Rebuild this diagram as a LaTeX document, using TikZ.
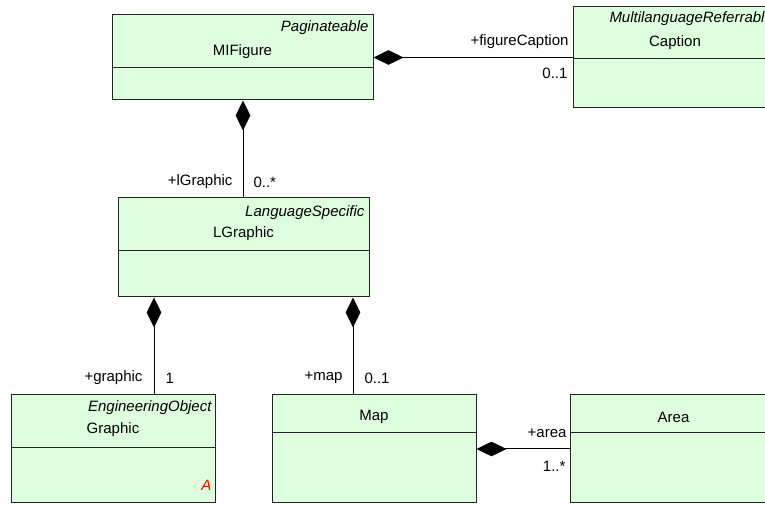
\documentclass[tikz,border=0pt]{standalone}
\usepackage{fontspec}
\setmainfont{Liberation Sans}
\usetikzlibrary{fit, arrows.meta}
\definecolor{classfill}{RGB}{221,255,221}
\definecolor{classline}{RGB}{35,35,35}

\begin{document}
\begin{tikzpicture}[x=0.75pt, y=-0.75pt, line width=0.75pt,
  font=\fontsize{11.25}{13}\selectfont,
  classbox/.style={draw=classline, fill=classfill, inner sep=0pt},
  stereo/.style={font=\fontsize{11.25}{13}\selectfont\itshape, anchor=east, inner sep=0pt},
  role/.style={inner sep=0pt},
  comp/.style={-{Diamond[length=22.5pt, width=11pt]}}]
  \useasboundingbox (0,0) rectangle (765,505);
  \clip (0,0) rectangle (765,505);
  % classes
  \node[classbox, fit={(112,15) (373,100)}] (mifigure) {};
  \node[classbox, fit={(573,7) (777,108)}] (caption) {};
  \node[classbox, fit={(118,198) (369,297)}] (lgraphic) {};
  \node[classbox, fit={(11,395) (215,503)}] (graphic) {};
  \node[classbox, fit={(272,395) (476,503)}] (map) {};
  \node[classbox, fit={(570,395) (777,503)}] (area) {};
  % compartment lines
  \draw[classline] (mifigure.west |- 0,68) -- (mifigure.east |- 0,68);
  \draw[classline] (caption.west |- 0,59) -- (caption.east |- 0,59);
  \draw[classline] (lgraphic.west |- 0,251) -- (lgraphic.east |- 0,251);
  \draw[classline] (graphic.west |- 0,448) -- (graphic.east |- 0,448);
  \draw[classline] (map.west |- 0,433) -- (map.east |- 0,433);
  \draw[classline] (area.west |- 0,433) -- (area.east |- 0,433);
  % stereotypes and names
  \node[stereo] (mifigurest) at (369,28) {Paginateable};
  \node (mifigurename) at (mifigure.center |- 0,52) {MIFigure};
  \node[stereo, anchor=west] (captionst) at (609,19) {MultilanguageReferrable};
  \node (captionname) at (caption.center |- 0,43) {Caption};
  \node[stereo] (lgraphicst) at (365,213) {LanguageSpecific};
  \node (lgraphicname) at (lgraphic.center |- 0,234) {LGraphic};
  \node[stereo] (graphicst) at (212,408) {EngineeringObject};
  \node (graphicname) at (graphic.center |- 0,430) {Graphic};
  \node[stereo, text=red] (graphicabs) at (212,485) {A};
  \node (mapname) at (map.center |- 0,417) {Map};
  \node (areaname) at (area.center |- 0,417) {Area};
  % compositions
  \draw[comp] (caption.west) -- (mifigure.east);
  \draw[comp] (lgraphic.north -| 243,0) -- (mifigure.south -| 243,0);
  \draw[comp] (graphic.north -| 154,0) -- (lgraphic.south -| 154,0);
  \draw[comp] (map.north -| 353,0) -- (lgraphic.south -| 353,0);
  \draw[comp] (area.west) -- (map.east);
  % roles and multiplicities
  \node[role, anchor=east] (captionrole) at (569,42) {+figureCaption};
  \node[role, anchor=east] (captionmult) at (568,73) {0..1};
  \node[role, anchor=east] (lgraphicrole) at (233,182) {+lGraphic};
  \node[role, anchor=west] (lgraphicmult) at (253,182) {0..*};
  \node[role, anchor=east] (graphicrole) at (143,378) {+graphic};
  \node[role, anchor=west] (graphicmult) at (165,378) {1};
  \node[role, anchor=east] (maprole) at (343,378) {+map};
  \node[role, anchor=west] (mapmult) at (364,378) {0..1};
  \node[role, anchor=east] (arearole) at (567,433) {+area};
  \node[role, anchor=east] (areamult) at (566,466) {1..*};
\end{tikzpicture}
\end{document}
